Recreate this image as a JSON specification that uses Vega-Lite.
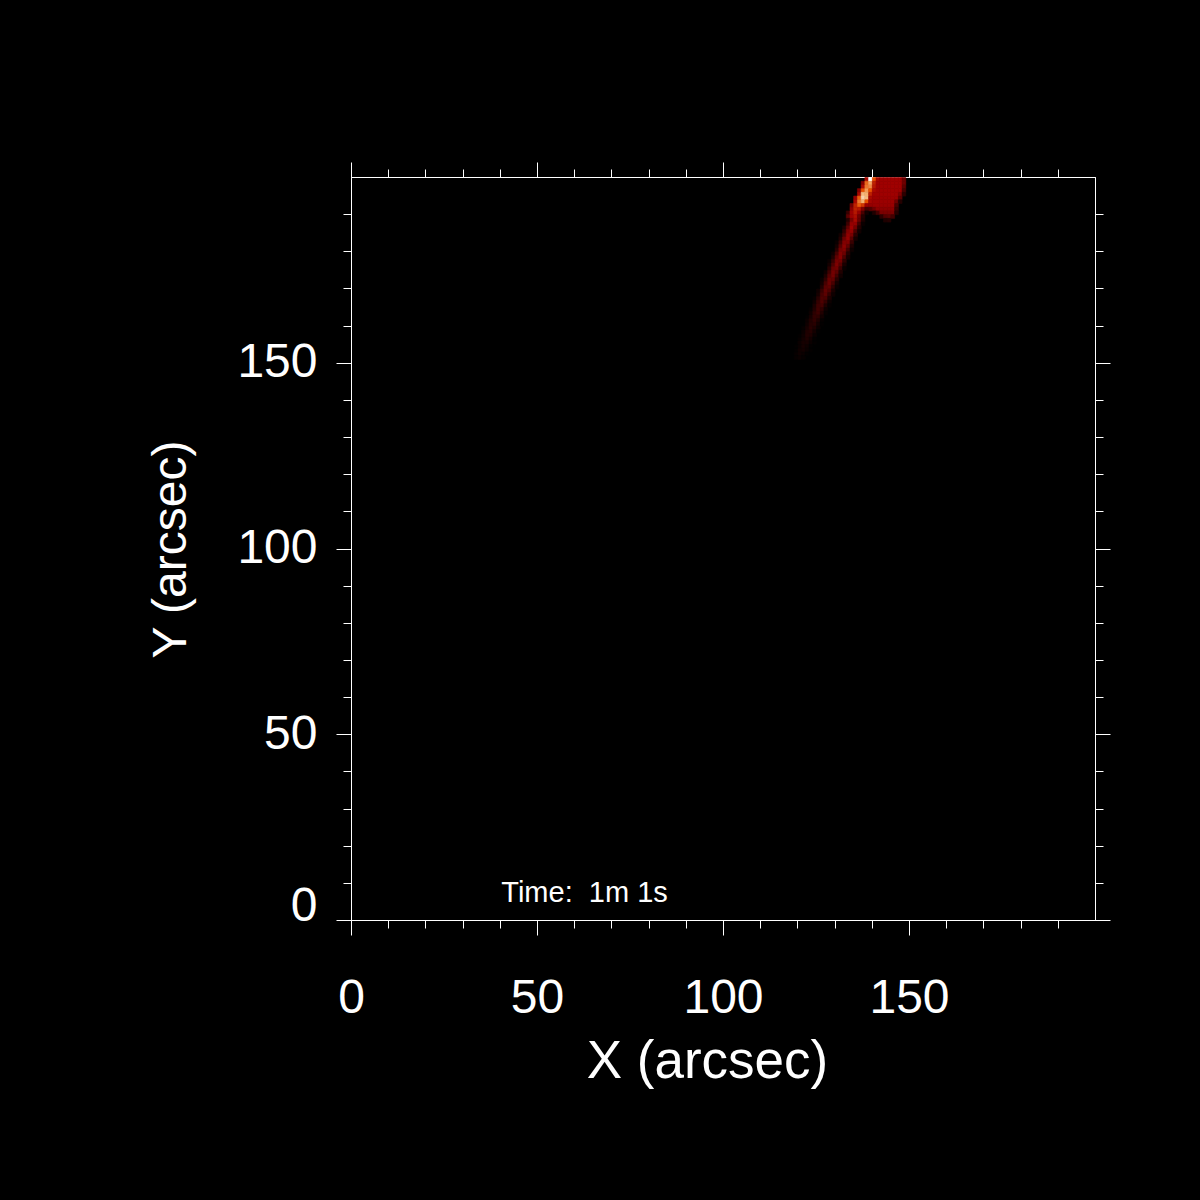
{
  "$schema": "https://vega.github.io/schema/vega-lite/v6.json",
  "autosize": {"type": "none"},
  "width": 744,
  "height": 743,
  "padding": {"left": 351, "top": 177, "right": 105, "bottom": 280},
  "background": "#000000",
  "config": {
    "view": {"stroke": null, "fill": "#000000"},
    "axis": {
      "grid": false,
      "domainColor": "#ffffff",
      "domainWidth": 1,
      "tickColor": "#ffffff",
      "tickWidth": 1,
      "labelColor": "#ffffff",
      "titleColor": "#ffffff",
      "labelFont": "Liberation Sans",
      "titleFont": "Liberation Sans",
      "labelFontWeight": "normal",
      "titleFontWeight": "normal",
      "labelOverlap": false,
      "labelBound": false,
      "zindex": 1
    }
  },
  "datasets": {
    "cells": [
      {"x":138,"y":199,"v":0.45},{"x":139,"y":199,"v":1.0},{"x":140,"y":199,"v":0.6},{"x":141,"y":199,"v":0.45},{"x":142,"y":199,"v":0.43},{"x":143,"y":199,"v":0.43},{"x":144,"y":199,"v":0.43},{"x":145,"y":199,"v":0.43},{"x":146,"y":199,"v":0.43},{"x":147,"y":199,"v":0.43},{"x":148,"y":199,"v":0.3},
      {"x":137,"y":198,"v":0.35},{"x":138,"y":198,"v":0.65},{"x":139,"y":198,"v":0.78},{"x":140,"y":198,"v":0.5},{"x":141,"y":198,"v":0.43},{"x":142,"y":198,"v":0.43},{"x":143,"y":198,"v":0.43},{"x":144,"y":198,"v":0.43},{"x":145,"y":198,"v":0.43},{"x":146,"y":198,"v":0.43},{"x":147,"y":198,"v":0.43},{"x":148,"y":198,"v":0.3},
      {"x":137,"y":197,"v":0.45},{"x":138,"y":197,"v":0.68},{"x":139,"y":197,"v":0.72},{"x":140,"y":197,"v":0.48},{"x":141,"y":197,"v":0.43},{"x":142,"y":197,"v":0.43},{"x":143,"y":197,"v":0.43},{"x":144,"y":197,"v":0.43},{"x":145,"y":197,"v":0.43},{"x":146,"y":197,"v":0.43},{"x":147,"y":197,"v":0.43},{"x":148,"y":197,"v":0.25},
      {"x":136,"y":196,"v":0.35},{"x":137,"y":196,"v":0.6},{"x":138,"y":196,"v":0.75},{"x":139,"y":196,"v":0.6},{"x":140,"y":196,"v":0.45},{"x":141,"y":196,"v":0.43},{"x":142,"y":196,"v":0.43},{"x":143,"y":196,"v":0.43},{"x":144,"y":196,"v":0.43},{"x":145,"y":196,"v":0.43},{"x":146,"y":196,"v":0.43},{"x":147,"y":196,"v":0.43},{"x":148,"y":196,"v":0.2},
      {"x":136,"y":195,"v":0.45},{"x":137,"y":195,"v":0.82},{"x":138,"y":195,"v":0.8},{"x":139,"y":195,"v":0.5},{"x":140,"y":195,"v":0.43},{"x":141,"y":195,"v":0.43},{"x":142,"y":195,"v":0.43},{"x":143,"y":195,"v":0.43},{"x":144,"y":195,"v":0.43},{"x":145,"y":195,"v":0.43},{"x":146,"y":195,"v":0.43},{"x":147,"y":195,"v":0.35},{"x":148,"y":195,"v":0.12},
      {"x":135,"y":194,"v":0.4},{"x":136,"y":194,"v":0.62},{"x":137,"y":194,"v":0.88},{"x":138,"y":194,"v":0.82},{"x":139,"y":194,"v":0.45},{"x":140,"y":194,"v":0.42},{"x":141,"y":194,"v":0.42},{"x":142,"y":194,"v":0.42},{"x":143,"y":194,"v":0.42},{"x":144,"y":194,"v":0.42},{"x":145,"y":194,"v":0.42},{"x":146,"y":194,"v":0.42},{"x":147,"y":194,"v":0.25},
      {"x":135,"y":193,"v":0.45},{"x":136,"y":193,"v":0.68},{"x":137,"y":193,"v":0.8},{"x":138,"y":193,"v":0.6},{"x":139,"y":193,"v":0.44},{"x":140,"y":193,"v":0.42},{"x":141,"y":193,"v":0.42},{"x":142,"y":193,"v":0.42},{"x":143,"y":193,"v":0.42},{"x":144,"y":193,"v":0.42},{"x":145,"y":193,"v":0.42},{"x":146,"y":193,"v":0.3},{"x":147,"y":193,"v":0.1},
      {"x":134,"y":192,"v":0.3},{"x":135,"y":192,"v":0.5},{"x":136,"y":192,"v":0.62},{"x":137,"y":192,"v":0.55},{"x":138,"y":192,"v":0.42},{"x":139,"y":192,"v":0.4},{"x":140,"y":192,"v":0.41},{"x":141,"y":192,"v":0.41},{"x":142,"y":192,"v":0.41},{"x":143,"y":192,"v":0.41},{"x":144,"y":192,"v":0.41},{"x":145,"y":192,"v":0.41},{"x":146,"y":192,"v":0.2},
      {"x":134,"y":191,"v":0.38},{"x":135,"y":191,"v":0.5},{"x":136,"y":191,"v":0.48},{"x":137,"y":191,"v":0.35},{"x":138,"y":191,"v":0.2},{"x":139,"y":191,"v":0.22},{"x":140,"y":191,"v":0.3},{"x":141,"y":191,"v":0.38},{"x":142,"y":191,"v":0.38},{"x":143,"y":191,"v":0.38},{"x":144,"y":191,"v":0.38},{"x":145,"y":191,"v":0.38},{"x":146,"y":191,"v":0.15},
      {"x":133,"y":190,"v":0.15},{"x":134,"y":190,"v":0.42},{"x":135,"y":190,"v":0.48},{"x":136,"y":190,"v":0.4},{"x":137,"y":190,"v":0.2},{"x":138,"y":190,"v":0.05},{"x":140,"y":190,"v":0.08},{"x":141,"y":190,"v":0.18},{"x":142,"y":190,"v":0.33},{"x":143,"y":190,"v":0.33},{"x":144,"y":190,"v":0.33},{"x":145,"y":190,"v":0.33},{"x":146,"y":190,"v":0.1},
      {"x":133,"y":189,"v":0.25},{"x":134,"y":189,"v":0.42},{"x":135,"y":189,"v":0.46},{"x":136,"y":189,"v":0.3},{"x":137,"y":189,"v":0.1},{"x":142,"y":189,"v":0.12},{"x":143,"y":189,"v":0.22},{"x":144,"y":189,"v":0.25},{"x":145,"y":189,"v":0.18},
      {"x":133,"y":188,"v":0.1},{"x":134,"y":188,"v":0.32},{"x":135,"y":188,"v":0.45},{"x":136,"y":188,"v":0.28},{"x":137,"y":188,"v":0.08},{"x":143,"y":188,"v":0.08},{"x":144,"y":188,"v":0.1},
      {"x":133,"y":187,"v":0.17},{"x":134,"y":187,"v":0.4},{"x":135,"y":187,"v":0.4},{"x":136,"y":187,"v":0.18},{"x":137,"y":187,"v":0.03},
      {"x":132,"y":186,"v":0.07},{"x":133,"y":186,"v":0.26},{"x":134,"y":186,"v":0.43},{"x":135,"y":186,"v":0.31},{"x":136,"y":186,"v":0.1},
      {"x":132,"y":185,"v":0.13},{"x":133,"y":185,"v":0.34},{"x":134,"y":185,"v":0.4},{"x":135,"y":185,"v":0.21},{"x":136,"y":185,"v":0.05},
      {"x":131,"y":184,"v":0.05},{"x":132,"y":184,"v":0.2},{"x":133,"y":184,"v":0.39},{"x":134,"y":184,"v":0.33},{"x":135,"y":184,"v":0.12},
      {"x":131,"y":183,"v":0.09},{"x":132,"y":183,"v":0.29},{"x":133,"y":183,"v":0.4},{"x":134,"y":183,"v":0.24},{"x":135,"y":183,"v":0.06},
      {"x":130,"y":182,"v":0.03},{"x":131,"y":182,"v":0.16},{"x":132,"y":182,"v":0.35},{"x":133,"y":182,"v":0.35},{"x":134,"y":182,"v":0.15},
      {"x":130,"y":181,"v":0.06},{"x":131,"y":181,"v":0.23},{"x":132,"y":181,"v":0.38},{"x":133,"y":181,"v":0.27},{"x":134,"y":181,"v":0.08},
      {"x":130,"y":180,"v":0.11},{"x":131,"y":180,"v":0.31},{"x":132,"y":180,"v":0.35},{"x":133,"y":180,"v":0.18},{"x":134,"y":180,"v":0.04},
      {"x":129,"y":179,"v":0.04},{"x":130,"y":179,"v":0.19},{"x":131,"y":179,"v":0.35},{"x":132,"y":179,"v":0.29},{"x":133,"y":179,"v":0.1},
      {"x":129,"y":178,"v":0.08},{"x":130,"y":178,"v":0.26},{"x":131,"y":178,"v":0.36},{"x":132,"y":178,"v":0.21},{"x":133,"y":178,"v":0.06},
      {"x":128,"y":177,"v":0.03},{"x":129,"y":177,"v":0.15},{"x":130,"y":177,"v":0.32},{"x":131,"y":177,"v":0.31},{"x":132,"y":177,"v":0.13},
      {"x":128,"y":176,"v":0.06},{"x":129,"y":176,"v":0.21},{"x":130,"y":176,"v":0.34},{"x":131,"y":176,"v":0.24},{"x":132,"y":176,"v":0.07},
      {"x":128,"y":175,"v":0.11},{"x":129,"y":175,"v":0.28},{"x":130,"y":175,"v":0.31},{"x":131,"y":175,"v":0.16},{"x":132,"y":175,"v":0.03},
      {"x":127,"y":174,"v":0.04},{"x":128,"y":174,"v":0.17},{"x":129,"y":174,"v":0.31},{"x":130,"y":174,"v":0.25},{"x":131,"y":174,"v":0.09},
      {"x":127,"y":173,"v":0.08},{"x":128,"y":173,"v":0.23},{"x":129,"y":173,"v":0.31},{"x":130,"y":173,"v":0.18},{"x":131,"y":173,"v":0.05},
      {"x":126,"y":172,"v":0.03},{"x":127,"y":172,"v":0.13},{"x":128,"y":172,"v":0.28},{"x":129,"y":172,"v":0.26},{"x":130,"y":172,"v":0.11},
      {"x":126,"y":171,"v":0.05},{"x":127,"y":171,"v":0.19},{"x":128,"y":171,"v":0.29},{"x":129,"y":171,"v":0.2},{"x":130,"y":171,"v":0.06},
      {"x":126,"y":170,"v":0.09},{"x":127,"y":170,"v":0.24},{"x":128,"y":170,"v":0.26},{"x":129,"y":170,"v":0.13},{"x":130,"y":170,"v":0.03},
      {"x":125,"y":169,"v":0.04},{"x":126,"y":169,"v":0.15},{"x":127,"y":169,"v":0.26},{"x":128,"y":169,"v":0.21},{"x":129,"y":169,"v":0.07},
      {"x":125,"y":168,"v":0.06},{"x":126,"y":168,"v":0.19},{"x":127,"y":168,"v":0.25},{"x":128,"y":168,"v":0.14},{"x":129,"y":168,"v":0.04},
      {"x":124,"y":167,"v":0.02},{"x":125,"y":167,"v":0.1},{"x":126,"y":167,"v":0.21},{"x":127,"y":167,"v":0.2},{"x":128,"y":167,"v":0.08},
      {"x":124,"y":166,"v":0.04},{"x":125,"y":166,"v":0.14},{"x":126,"y":166,"v":0.21},{"x":127,"y":166,"v":0.14},{"x":128,"y":166,"v":0.04},
      {"x":124,"y":165,"v":0.07},{"x":125,"y":165,"v":0.16},{"x":126,"y":165,"v":0.18},{"x":127,"y":165,"v":0.08},{"x":128,"y":165,"v":0.02},
      {"x":123,"y":164,"v":0.02},{"x":124,"y":164,"v":0.09},{"x":125,"y":164,"v":0.17},{"x":126,"y":164,"v":0.13},{"x":127,"y":164,"v":0.04},
      {"x":123,"y":163,"v":0.04},{"x":124,"y":163,"v":0.12},{"x":125,"y":163,"v":0.16},{"x":126,"y":163,"v":0.09},{"x":127,"y":163,"v":0.02},
      {"x":122,"y":162,"v":0.01},{"x":123,"y":162,"v":0.06},{"x":124,"y":162,"v":0.13},{"x":125,"y":162,"v":0.12},{"x":126,"y":162,"v":0.05},
      {"x":122,"y":161,"v":0.03},{"x":123,"y":161,"v":0.09},{"x":124,"y":161,"v":0.13},{"x":125,"y":161,"v":0.08},{"x":126,"y":161,"v":0.02},
      {"x":122,"y":160,"v":0.04},{"x":123,"y":160,"v":0.1},{"x":124,"y":160,"v":0.11},{"x":125,"y":160,"v":0.05},{"x":126,"y":160,"v":0.01},
      {"x":121,"y":159,"v":0.02},{"x":122,"y":159,"v":0.06},{"x":123,"y":159,"v":0.11},{"x":124,"y":159,"v":0.08},{"x":125,"y":159,"v":0.03},
      {"x":121,"y":158,"v":0.03},{"x":122,"y":158,"v":0.08},{"x":123,"y":158,"v":0.1},{"x":124,"y":158,"v":0.05},{"x":125,"y":158,"v":0.01},
      {"x":120,"y":157,"v":0.01},{"x":121,"y":157,"v":0.04},{"x":122,"y":157,"v":0.09},{"x":123,"y":157,"v":0.08},{"x":124,"y":157,"v":0.03},
      {"x":120,"y":156,"v":0.02},{"x":121,"y":156,"v":0.05},{"x":122,"y":156,"v":0.08},{"x":123,"y":156,"v":0.05},{"x":124,"y":156,"v":0.01},
      {"x":120,"y":155,"v":0.03},{"x":121,"y":155,"v":0.06},{"x":122,"y":155,"v":0.06},{"x":123,"y":155,"v":0.03},{"x":124,"y":155,"v":0.01},
      {"x":119,"y":154,"v":0.01},{"x":120,"y":154,"v":0.03},{"x":121,"y":154,"v":0.06},{"x":122,"y":154,"v":0.04},{"x":123,"y":154,"v":0.01},
      {"x":119,"y":153,"v":0.01},{"x":120,"y":153,"v":0.04},{"x":121,"y":153,"v":0.05},{"x":122,"y":153,"v":0.03},{"x":123,"y":153,"v":0.01},
      {"x":119,"y":152,"v":0.02},{"x":120,"y":152,"v":0.04},{"x":121,"y":152,"v":0.03},{"x":122,"y":152,"v":0.01},
      {"x":119,"y":151,"v":0.02},{"x":120,"y":151,"v":0.03},{"x":121,"y":151,"v":0.02}
    ],
    "anchor": [{"x": 0, "y": 0}],
    "caption": [{"x": 40.4, "y": 4.9, "label": "Time:\u00a0 1m 1s"}]
  },
  "resolve": {"axis": {"x": "independent", "y": "independent"}},
  "layer": [
    {
      "data": {"name": "cells"},
      "mark": {"type": "rect", "binSpacing": 0, "strokeWidth": 0.6},
      "encoding": {
        "x": {"field": "x", "type": "quantitative", "bin": {"binned": true, "step": 1}, "scale": {"domain": [0, 200], "nice": false, "zero": false}, "axis": null},
        "y": {"field": "y", "type": "quantitative", "bin": {"binned": true, "step": 1}, "scale": {"domain": [0, 200], "nice": false, "zero": false}, "axis": null},
        "color": {"field": "v", "type": "quantitative", "scale": {"type": "linear", "domain": [0, 0.43, 0.6, 0.8, 1], "range": ["#000000", "#a00000", "#e85000", "#f5b070", "#ffffff"], "interpolate": "rgb"}, "legend": null},
        "stroke": {"field": "v", "type": "quantitative", "scale": {"type": "linear", "domain": [0, 0.43, 0.6, 0.8, 1], "range": ["#000000", "#a00000", "#e85000", "#f5b070", "#ffffff"], "interpolate": "rgb"}, "legend": null}
      }
    },
    {
      "data": {"name": "caption"},
      "mark": {"type": "text", "align": "left", "baseline": "alphabetic", "font": "Liberation Sans", "fontSize": 29, "color": "#ffffff"},
      "encoding": {
        "x": {"field": "x", "type": "quantitative", "axis": null},
        "y": {"field": "y", "type": "quantitative", "axis": null},
        "text": {"field": "label"}
      }
    },
    {
      "data": {"name": "anchor"},
      "mark": {"type": "point", "opacity": 0},
      "encoding": {
        "x": {"field": "x", "type": "quantitative", "axis": {"orient": "bottom", "values": [0, 50, 100, 150], "tickSize": 15, "labelFontSize": 48, "labelPadding": 39, "labelAlign": "center", "labelBaseline": "top", "title": "X (arcsec)", "titleFontSize": 53, "titleAlign": "center", "titleBaseline": "alphabetic", "titleX": 356, "titleY": 157, "titleAngle": 0}},
        "y": {"field": "y", "type": "quantitative", "axis": {"orient": "left", "values": [0, 50, 100, 150], "tickSize": 15, "labelFontSize": 48, "labelPadding": 19, "labelAlign": "right", "labelBaseline": {"condition": {"test": "datum.value == 0", "value": "alphabetic"}, "value": "middle"}, "title": "Y (arcsec)", "titleFontSize": 48, "titleAlign": "center", "titleBaseline": "alphabetic", "titleAngle": 270, "titleX": -166, "titleY": 372}}
      }
    },
    {
      "data": {"name": "anchor"},
      "mark": {"type": "point", "opacity": 0},
      "encoding": {
        "x": {"field": "x", "type": "quantitative", "axis": {"orient": "bottom", "values": [0,10,20,30,40,50,60,70,80,90,100,110,120,130,140,150,160,170,180,190], "tickSize": 8, "labels": false, "title": null}},
        "y": {"field": "y", "type": "quantitative", "axis": {"orient": "left", "values": [0,10,20,30,40,50,60,70,80,90,100,110,120,130,140,150,160,170,180,190], "tickSize": 8, "labels": false, "title": null}}
      }
    },
    {
      "data": {"name": "anchor"},
      "mark": {"type": "point", "opacity": 0},
      "encoding": {
        "x": {"field": "x", "type": "quantitative", "axis": {"orient": "top", "values": [0, 50, 100, 150], "tickSize": 15, "labels": false, "title": null}},
        "y": {"field": "y", "type": "quantitative", "axis": {"orient": "right", "values": [0, 50, 100, 150], "tickSize": 15, "labels": false, "title": null}}
      }
    },
    {
      "data": {"name": "anchor"},
      "mark": {"type": "point", "opacity": 0},
      "encoding": {
        "x": {"field": "x", "type": "quantitative", "axis": {"orient": "top", "values": [0,10,20,30,40,50,60,70,80,90,100,110,120,130,140,150,160,170,180,190], "tickSize": 8, "labels": false, "title": null}},
        "y": {"field": "y", "type": "quantitative", "axis": {"orient": "right", "values": [0,10,20,30,40,50,60,70,80,90,100,110,120,130,140,150,160,170,180,190], "tickSize": 8, "labels": false, "title": null}}
      }
    }
  ]
}
